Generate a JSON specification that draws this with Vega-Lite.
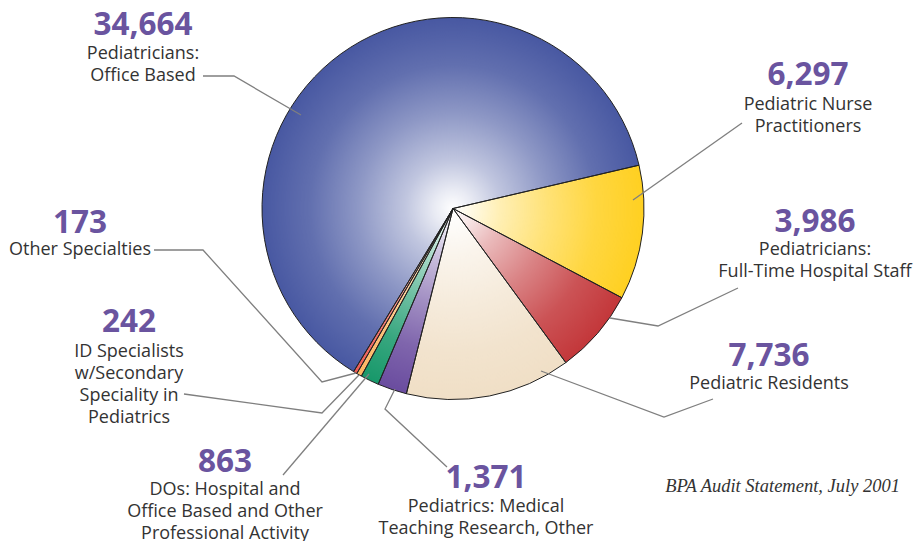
{
  "$schema": "https://vega.github.io/schema/vega-lite/v6.json",
  "width": 915,
  "height": 541,
  "autosize": {"type": "fit", "contains": "padding"},
  "padding": 0,
  "background": "#ffffff",
  "config": {"view": {"stroke": null}},
  "datasets": {
    "slices": [
      {"name": "Pediatric Nurse Practitioners", "value": 6297, "ord": 1},
      {"name": "Pediatricians: Full-Time Hospital Staff", "value": 3986, "ord": 2},
      {"name": "Pediatric Residents", "value": 7736, "ord": 3},
      {"name": "Pediatrics: Medical Teaching Research, Other", "value": 1371, "ord": 4},
      {"name": "DOs: Hospital and Office Based and Other Professional Activity", "value": 863, "ord": 5},
      {"name": "ID Specialists w/Secondary Speciality in Pediatrics", "value": 242, "ord": 6},
      {"name": "Other Specialties", "value": 173, "ord": 7},
      {"name": "Pediatricians: Office Based", "value": 34664, "ord": 8}
    ],
    "labels": [
      {"name": "Pediatricians: Office Based", "value": 34664, "lx": 143, "ny": 35, "ty": 59, "lines": ["Pediatricians:", "Office Based"]},
      {"name": "Pediatric Nurse Practitioners", "value": 6297, "lx": 808, "ny": 85, "ty": 110, "lines": ["Pediatric Nurse", "Practitioners"]},
      {"name": "Pediatricians: Full-Time Hospital Staff", "value": 3986, "lx": 815, "ny": 232, "ty": 255, "lines": ["Pediatricians:", "Full-Time Hospital Staff"]},
      {"name": "Pediatric Residents", "value": 7736, "lx": 769, "ny": 366, "ty": 389, "lines": ["Pediatric Residents"]},
      {"name": "Other Specialties", "value": 173, "lx": 80, "ny": 233, "ty": 255, "lines": ["Other Specialties"]},
      {"name": "ID Specialists w/Secondary Speciality in Pediatrics", "value": 242, "lx": 129, "ny": 332, "ty": 357, "lines": ["ID Specialists", "w/Secondary", "Speciality in", "Pediatrics"]},
      {"name": "DOs: Hospital and Office Based and Other Professional Activity", "value": 863, "lx": 225, "ny": 472, "ty": 495, "lines": ["DOs: Hospital and", "Office Based and Other", "Professional Activity"]},
      {"name": "Pediatrics: Medical Teaching Research, Other", "value": 1371, "lx": 486, "ny": 488, "ty": 512, "lines": ["Pediatrics: Medical", "Teaching Research, Other"]}
    ],
    "leaders": [
      {"name": "Office", "seq": 1, "px": 203, "py": 76},
      {"name": "Office", "seq": 2, "px": 234, "py": 76},
      {"name": "Office", "seq": 3, "px": 301, "py": 115},
      {"name": "Nurse", "seq": 1, "px": 742, "py": 123},
      {"name": "Nurse", "seq": 2, "px": 633, "py": 200},
      {"name": "FullTime", "seq": 1, "px": 738, "py": 288},
      {"name": "FullTime", "seq": 2, "px": 658, "py": 326},
      {"name": "FullTime", "seq": 3, "px": 610, "py": 318},
      {"name": "Residents", "seq": 1, "px": 713, "py": 399},
      {"name": "Residents", "seq": 2, "px": 664, "py": 417},
      {"name": "Residents", "seq": 3, "px": 541, "py": 371},
      {"name": "Other", "seq": 1, "px": 154, "py": 250},
      {"name": "Other", "seq": 2, "px": 203, "py": 250},
      {"name": "Other", "seq": 3, "px": 322, "py": 382},
      {"name": "Other", "seq": 4, "px": 356, "py": 373},
      {"name": "ID", "seq": 1, "px": 184, "py": 394},
      {"name": "ID", "seq": 2, "px": 322, "py": 413},
      {"name": "ID", "seq": 3, "px": 359, "py": 375},
      {"name": "DOs", "seq": 1, "px": 283, "py": 475},
      {"name": "DOs", "seq": 2, "px": 369, "py": 374},
      {"name": "Teaching", "seq": 1, "px": 447, "py": 467},
      {"name": "Teaching", "seq": 2, "px": 385, "py": 409},
      {"name": "Teaching", "seq": 3, "px": 395, "py": 389}
    ],
    "center": [{"cx": 453, "cy": 208.5}],
    "source": [{"text": "BPA Audit Statement, July 2001", "sx": 900, "sy": 492}]
  },
  "layer": [
    {
      "data": {"name": "slices"},
      "mark": {"type": "arc", "radius": 191, "stroke": null},
      "encoding": {
        "x": {"datum": 453, "type": "quantitative", "scale": {"domain": [0, 915], "range": [0, 915], "nice": false, "zero": false}, "axis": null},
        "y": {"datum": 208.5, "type": "quantitative", "scale": {"domain": [0, 541], "range": [0, 541], "nice": false, "zero": false}, "axis": null},
        "theta": {"field": "value", "type": "quantitative", "stack": true, "scale": {"range": [1.342, 7.6252]}},
        "order": {"field": "ord", "type": "quantitative"},
        "color": {
          "field": "name", "type": "nominal", "legend": null,
          "scale": {
            "domain": ["Pediatric Nurse Practitioners", "Pediatricians: Full-Time Hospital Staff", "Pediatric Residents", "Pediatrics: Medical Teaching Research, Other", "DOs: Hospital and Office Based and Other Professional Activity", "ID Specialists w/Secondary Speciality in Pediatrics", "Other Specialties", "Pediatricians: Office Based"],
            "range": ["#ffd021", "#c3373a", "#f0dfc6", "#6a4c9f", "#17986a", "#fdb662", "#ee5d55", "#4858a2"]
          }
        }
      }
    },
    {
      "data": {"name": "center"},
      "mark": {
        "type": "arc", "radius": 191, "theta": 0, "theta2": 6.2832,
        "fill": {
          "gradient": "radial", "x1": 0.5, "y1": 0.5, "r1": 0, "x2": 0.5, "y2": 0.5, "r2": 0.5,
          "stops": [
            {"offset": 0, "color": "rgba(255,255,255,1)"},
            {"offset": 0.1, "color": "rgba(255,255,255,0.88)"},
            {"offset": 0.25, "color": "rgba(255,255,255,0.66)"},
            {"offset": 0.5, "color": "rgba(255,255,255,0.38)"},
            {"offset": 0.75, "color": "rgba(255,255,255,0.14)"},
            {"offset": 1, "color": "rgba(255,255,255,0)"}
          ]
        }
      },
      "encoding": {
        "x": {"field": "cx", "type": "quantitative"},
        "y": {"field": "cy", "type": "quantitative"}
      }
    },
    {
      "data": {"name": "slices"},
      "mark": {"type": "arc", "radius": 191, "fill": "transparent", "stroke": "#222222", "strokeWidth": 1},
      "encoding": {
        "x": {"datum": 453, "type": "quantitative"},
        "y": {"datum": 208.5, "type": "quantitative"},
        "theta": {"field": "value", "type": "quantitative", "stack": true},
        "order": {"field": "ord", "type": "quantitative"}
      }
    },
    {
      "data": {"name": "leaders"},
      "mark": {"type": "line", "stroke": "#7f7f7f", "strokeWidth": 1.3, "interpolate": "linear"},
      "encoding": {
        "x": {"field": "px", "type": "quantitative"},
        "y": {"field": "py", "type": "quantitative"},
        "detail": {"field": "name", "type": "nominal"},
        "order": {"field": "seq", "type": "quantitative"}
      }
    },
    {
      "data": {"name": "labels"},
      "mark": {"type": "text", "font": "Open Sans", "fontWeight": "bold", "fontSize": 31.5, "fill": "#6a549f", "align": "center", "baseline": "alphabetic"},
      "encoding": {
        "x": {"field": "lx", "type": "quantitative"},
        "y": {"field": "ny", "type": "quantitative"},
        "text": {"field": "value", "type": "quantitative", "format": ","}
      }
    },
    {
      "data": {"name": "labels"},
      "mark": {"type": "text", "font": "Open Sans", "fontSize": 18, "lineHeight": 22, "fill": "#333333", "align": "center", "baseline": "alphabetic"},
      "encoding": {
        "x": {"field": "lx", "type": "quantitative"},
        "y": {"field": "ty", "type": "quantitative"},
        "text": {"field": "lines", "type": "nominal"}
      }
    },
    {
      "data": {"name": "source"},
      "mark": {"type": "text", "font": "Liberation Serif", "fontStyle": "italic", "fontSize": 18.5, "fill": "#333333", "align": "right", "baseline": "alphabetic"},
      "encoding": {
        "x": {"field": "sx", "type": "quantitative"},
        "y": {"field": "sy", "type": "quantitative"},
        "text": {"field": "text", "type": "nominal"}
      }
    }
  ]
}
